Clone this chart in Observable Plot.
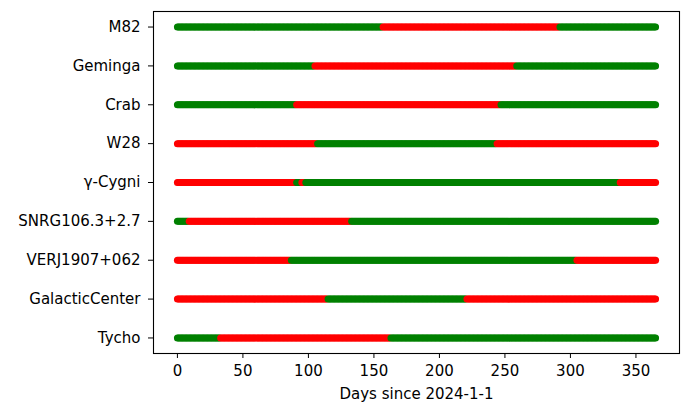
<!DOCTYPE html>
<html>
<head>
<meta charset="utf-8">
<script src="https://cdn.jsdelivr.net/npm/d3@7"></script>
<script src="https://cdn.jsdelivr.net/npm/@observablehq/plot@0.6"></script>
<style>
  html, body { margin: 0; padding: 0; background: #fff; }
  #chart svg { display: block; }
</style>
</head>
<body>
<div id="chart"></div>
<script>
// Sources, top to bottom
const sources = ["M82", "Geminga", "Crab", "W28", "γ-Cygni", "SNRG106.3+2.7", "VERJ1907+062", "GalacticCenter", "Tycho"];
// Colour on day 0 for each source
const firstColor = ["green", "green", "green", "red", "red", "green", "red", "red", "green"];
// Days on which the colour switches (green <-> red)
const switchDays = [
  [157, 292],
  [105, 259],
  [91, 247],
  [107, 244],
  [91, 95, 98, 338],
  [9, 133],
  [87, 305],
  [115, 221],
  [33, 163]
];
const lastDay = 365;
const xTicks = [0, 50, 100, 150, 200, 250, 300, 350];

const other = c => (c === "green" ? "red" : "green");
const rows = [];
sources.forEach((s, i) => {
  let c = firstColor[i];
  const sw = new Set(switchDays[i]);
  for (let d = 0; d <= lastDay; d++) {
    if (sw.has(d)) c = other(c);
    rows.push({source: s, day: d, color: c});
  }
});

const chart = Plot.plot({
  width: 685,
  height: 403,
  marginLeft: 153,
  marginRight: 6,
  marginTop: 11,
  marginBottom: 50,
  style: {fontFamily: "DejaVu Sans", fontSize: "15px", color: "#000", background: "#fff"},
  x: {domain: [-0.05 * lastDay, 1.05 * lastDay]},
  y: {type: "point", domain: sources, padding: 0.4, round: false},
  color: {type: "identity"},
  marks: [
    Plot.dot(rows, {x: "day", y: "source", fill: "color", r: 3.5, stroke: null}),
    Plot.frame({stroke: "#000", strokeWidth: 1.1}),
    Plot.axisX({ticks: xTicks, tickSize: 5, tickPadding: 7, fontSize: 15,
      label: "Days since 2024-1-1", labelAnchor: "center", labelArrow: "none", labelOffset: 45}),
    Plot.axisY({tickSize: 5, tickPadding: 8, fontSize: 15, label: null})
  ]
});
document.getElementById("chart").appendChild(chart);
</script>
</body>
</html>
